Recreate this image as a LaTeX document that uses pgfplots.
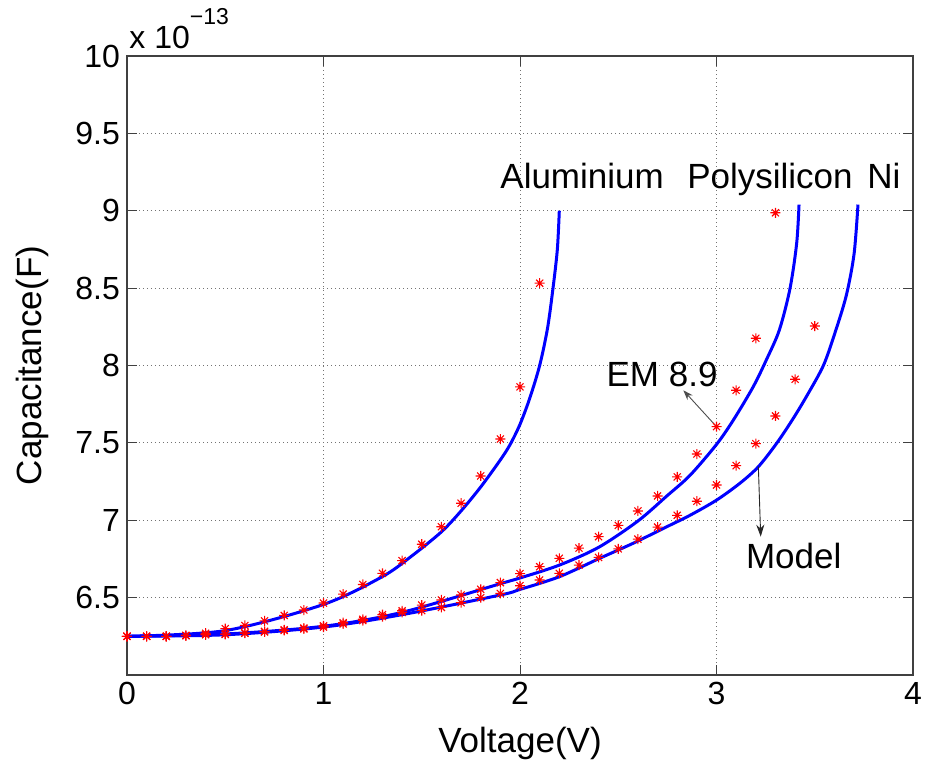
\documentclass[border=0pt]{standalone}
\usepackage{pgfplots}
\pgfplotsset{compat=1.18}
\usepackage{fontspec}
\setmainfont{Liberation Sans}
\usetikzlibrary{arrows.meta}

% MATLAB-style eight-armed asterisk
\pgfdeclareplotmark{mstar}{%
  \pgfpathmoveto{\pgfpoint{-\pgfplotmarksize}{0pt}}\pgfpathlineto{\pgfpoint{\pgfplotmarksize}{0pt}}%
  \pgfpathmoveto{\pgfpoint{0pt}{-\pgfplotmarksize}}\pgfpathlineto{\pgfpoint{0pt}{\pgfplotmarksize}}%
  \pgfpathmoveto{\pgfpoint{-.707\pgfplotmarksize}{-.707\pgfplotmarksize}}\pgfpathlineto{\pgfpoint{.707\pgfplotmarksize}{.707\pgfplotmarksize}}%
  \pgfpathmoveto{\pgfpoint{-.707\pgfplotmarksize}{.707\pgfplotmarksize}}\pgfpathlineto{\pgfpoint{.707\pgfplotmarksize}{-.707\pgfplotmarksize}}%
  \pgfusepathqstroke}

% Model curves (capacitance in units of 1e-13 F)
\pgfplotstableread{
x     c
0     6.25
0.5   6.287
1.0   6.456
1.3   6.636
1.45  6.77
1.6   6.925
1.7   7.06
1.8   7.215
1.9   7.39
1.95  7.49
2.0   7.62
2.05  7.79
2.10  8.00
2.14  8.24
2.168 8.50
2.19  8.75
2.20  9.00
}\modelAl

\pgfplotstableread{
x     c
0     6.25
0.5   6.265
1.0   6.315
1.4   6.405
1.9   6.59
2.0   6.627
2.2   6.71
2.4   6.825
2.6   6.995
2.75  7.16
2.865 7.29
3.0   7.49
3.086 7.648
3.187 7.863
3.255 8.04
3.32  8.23
3.374 8.497
3.408 8.79
3.42  9.04
}\modelPoly

\pgfplotstableread{
x     c
0     6.25
0.5   6.26
1.0   6.31
1.4   6.39
1.9   6.517
2.0   6.553
2.2   6.635
2.407 6.755
2.577 6.852
2.747 6.958
2.865 7.032
3.0   7.13
3.12  7.24
3.213 7.346
3.306 7.497
3.391 7.659
3.467 7.82
3.544 8.0
3.60  8.20
3.66  8.45
3.70  8.72
3.72  9.04
}\modelNi

% EM simulation points
\pgfplotstableread{
x    c
0    6.25
0.1  6.25
0.2  6.25
0.3  6.255
0.4  6.27
0.5  6.30
0.6  6.32
0.7  6.35
0.8  6.385
0.9  6.42
1.0  6.465
1.1  6.523
1.2  6.585
1.3  6.657
1.4  6.739
1.5  6.845
1.6  6.958
1.7  7.11
1.8  7.286
1.9  7.525
2.0  7.862
2.1  8.532
}\emAl

\pgfplotstableread{
x    c
0    6.25
0.1  6.25
0.2  6.25
0.3  6.255
0.4  6.262
0.5  6.265
0.6  6.272
0.7  6.282
0.8  6.292
0.9  6.303
1.0  6.318
1.1  6.338
1.2  6.36
1.3  6.39
1.4  6.415
1.5  6.452
1.6  6.485
1.7  6.517
1.8  6.554
1.9  6.597
2.0  6.655
2.1  6.70
2.2  6.754
2.3  6.82
2.4  6.894
2.5  6.967
2.6  7.06
2.7  7.157
2.8  7.28
2.9  7.428
3.0  7.605
3.1  7.84
3.2  8.176
3.3  8.987
}\emPoly

\pgfplotstableread{
x    c
0    6.25
0.1  6.25
0.2  6.25
0.3  6.255
0.4  6.26
0.5  6.262
0.6  6.27
0.7  6.278
0.8  6.288
0.9  6.298
1.0  6.31
1.1  6.33
1.2  6.352
1.3  6.378
1.4  6.405
1.5  6.416
1.6  6.437
1.7  6.467
1.8  6.50
1.9  6.527
2.0  6.577
2.1  6.614
2.2  6.657
2.3  6.71
2.4  6.76
2.5  6.815
2.6  6.878
2.7  6.956
2.8  7.032
2.9  7.123
3.0  7.228
3.1  7.353
3.2  7.495
3.3  7.674
3.4  7.911
3.5  8.255
}\emNi

\begin{document}
\begin{tikzpicture}
\useasboundingbox (-63.5pt,-43pt) rectangle (404.5pt,337.5pt);
\begin{axis}[
  scale only axis,
  width=393pt, height=309.5pt,
  xmin=0, xmax=4, ymin=6, ymax=10,
  xtick={0,1,2,3,4},
  ytick={6.5,7,7.5,8,8.5,9,9.5,10},
  yticklabels={6.5,7,7.5,8,8.5,9,9.5,10},
  scaled y ticks=false,
  /pgf/number format/assume math mode=true,
  ticklabel style={font=\fontsize{16}{19}\selectfont},
  tick align=inside,
  major tick length=5pt,
  tick style={black!75, line width=0.5pt},
  axis line style={black!75, line width=0.6pt},
  grid=major,
  major grid style={black!55, line width=0.5pt, dash pattern=on 0.5pt off 1.5pt},
  xlabel={Voltage(V)},
  ylabel={Capacitance(F)},
  label style={font=\fontsize{17.5}{20}\selectfont},
  xlabel style={at={(axis description cs:0.5,0)}, anchor=base, yshift=-38.5pt},
  ylabel style={at={(axis description cs:0,0.5)}, anchor=base, yshift=42.5pt},
  clip=false,
]
\addplot[blue, line width=1.5pt, smooth] table[x=x, y=c] {\modelAl};
\addplot[blue, line width=1.5pt, smooth] table[x=x, y=c] {\modelPoly};
\addplot[blue, line width=1.5pt, smooth] table[x=x, y=c] {\modelNi};

\addplot[only marks, mark=mstar, mark size=2.5pt, red, mark options={line width=0.55pt}] table[x=x, y=c] {\emAl};
\addplot[only marks, mark=mstar, mark size=2.5pt, red, mark options={line width=0.55pt}] table[x=x, y=c] {\emPoly};
\addplot[only marks, mark=mstar, mark size=2.5pt, red, mark options={line width=0.55pt}] table[x=x, y=c] {\emNi};

\node[anchor=base west, font=\fontsize{16}{19}\selectfont, inner sep=0pt]
  at (rel axis cs:0,1) [yshift=4pt, xshift=1pt] {x 10\raisebox{0.75em}{\fontsize{11.5}{12}\selectfont −13}};

\node[anchor=base, font=\fontsize{17.5}{20}\selectfont, inner sep=0pt] at (axis cs:2.316,9.147) {Aluminium};
\node[anchor=base, font=\fontsize{17.5}{20}\selectfont, inner sep=0pt] at (axis cs:3.272,9.147) {Polysilicon};
\node[anchor=base, font=\fontsize{17.5}{20}\selectfont, inner sep=0pt] at (axis cs:3.852,9.147) {Ni};
\node[anchor=base, font=\fontsize{17.5}{20}\selectfont, inner sep=0pt] at (axis cs:2.723,7.863) {EM 8.9};
\node[anchor=base, font=\fontsize{17.5}{20}\selectfont, inner sep=0pt] at (axis cs:3.393,6.69) {Model};

\draw[black!70, line width=0.45pt, -{Stealth[length=5pt, width=3.5pt]}] (axis cs:3.0,7.605) -- (axis cs:2.831,7.84);
\draw[black!85, line width=0.45pt, -{Stealth[length=6pt, width=4pt]}] (axis cs:3.213,7.346) -- (axis cs:3.225,6.894);
\end{axis}
\end{tikzpicture}
\end{document}
